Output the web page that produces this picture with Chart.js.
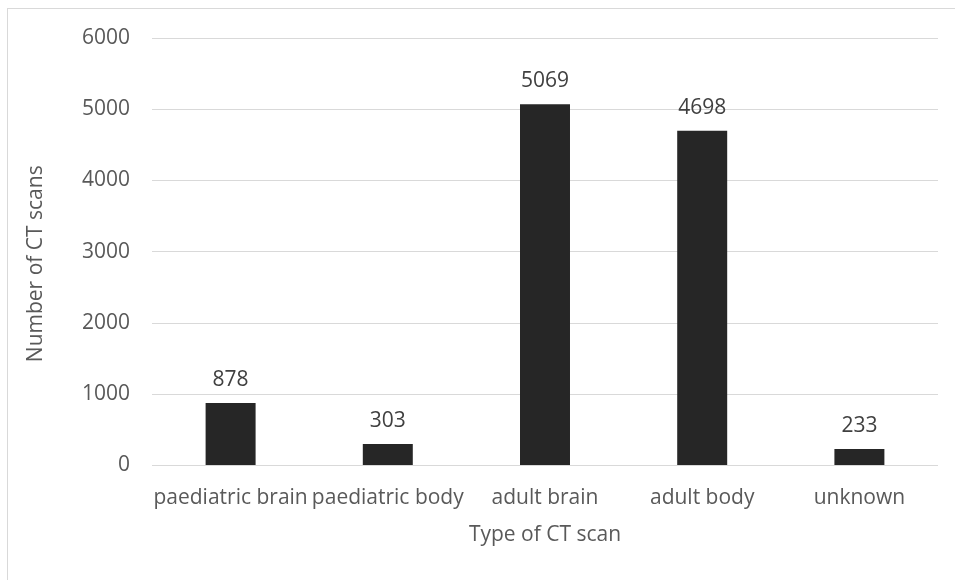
<!DOCTYPE html>
<html>
<head>
<meta charset="utf-8">
<script src="https://cdn.jsdelivr.net/npm/chart.js@4/dist/chart.umd.min.js"></script>
<style>
  html, body { margin: 0; padding: 0; background: #ffffff; }
  #wrap { position: relative; width: 955px; height: 580px; }
</style>
</head>
<body>
<div id="wrap"><canvas id="c" width="955" height="580"></canvas></div>
<script>
const categories = ["paediatric brain", "paediatric body", "adult brain", "adult body", "unknown"];
const scanCounts = [878, 303, 5069, 4698, 233];
const yTickValues = [0, 1000, 2000, 3000, 4000, 5000, 6000];
const yAxisTitle = "Number of CT scans";
const xAxisTitle = "Type of CT scan";

const FONT = "'Open Sans', 'Noto Sans', sans-serif";

const frame = {
  id: 'frame',
  beforeDraw(chart) {
    const ctx = chart.ctx;
    ctx.save();
    ctx.fillStyle = '#ffffff';
    ctx.fillRect(0, 0, chart.width, chart.height);
    ctx.strokeStyle = '#d9d9d9';
    ctx.lineWidth = 1;
    ctx.strokeRect(7.5, 8.5, 1200, 1200);
    ctx.restore();
  }
};

const valueLabels = {
  id: 'valueLabels',
  afterDatasetsDraw(chart) {
    const ctx = chart.ctx;
    const meta = chart.getDatasetMeta(0);
    ctx.save();
    ctx.font = "21px " + FONT;
    ctx.fillStyle = '#404040';
    ctx.textAlign = 'center';
    ctx.textBaseline = 'alphabetic';
    meta.data.forEach((bar, i) => {
      ctx.fillText(String(scanCounts[i]), bar.x, bar.y - 17);
    });
    ctx.restore();
  }
};

const yTitle = {
  id: 'yTitle',
  afterDraw(chart) {
    const ctx = chart.ctx;
    const area = chart.chartArea;
    ctx.save();
    ctx.font = "21px " + FONT;
    ctx.fillStyle = '#595959';
    ctx.textAlign = 'center';
    ctx.textBaseline = 'middle';
    ctx.translate(36, (area.top + area.bottom) / 2 + 12);
    ctx.rotate(-Math.PI / 2);
    ctx.fillText(yAxisTitle, 0, 0);
    ctx.restore();
  }
};

new Chart(document.getElementById('c'), {
  type: 'bar',
  data: {
    labels: categories,
    datasets: [{
      data: scanCounts,
      backgroundColor: '#262626',
      borderWidth: 0,
      categoryPercentage: 0.318,
      barPercentage: 1.0
    }]
  },
  options: {
    responsive: false,
    animation: false,
    devicePixelRatio: 1,
    layout: { padding: { top: 38, right: 17, left: 0, bottom: 0 } },
    plugins: {
      legend: { display: false },
      tooltip: { enabled: false },
      title: { display: false }
    },
    scales: {
      x: {
        grid: { display: false, drawTicks: false },
        border: { display: false },
        ticks: {
          color: '#595959',
          font: { family: FONT, size: 21 },
          padding: 20,
          maxRotation: 0,
          minRotation: 0,
          autoSkip: false
        },
        title: {
          display: true,
          text: xAxisTitle,
          color: '#595959',
          font: { family: FONT, size: 21 },
          padding: { top: 0, bottom: 32 }
        },
        afterFit(scale) { scale.height = 114.5; }
      },
      y: {
        min: 0,
        max: 6000,
        afterBuildTicks(scale) { scale.ticks = yTickValues.map(v => ({ value: v })); },
        grid: { color: '#d9d9d9', lineWidth: 1, drawTicks: false },
        border: { display: false },
        ticks: {
          color: '#595959',
          font: { family: FONT, size: 21 },
          padding: 22,
          callback: (v) => String(v)
        },
        title: { display: false },
        afterFit(scale) { scale.width = 152; }
      }
    }
  },
  plugins: [frame, valueLabels, yTitle]
});
</script>
</body>
</html>
